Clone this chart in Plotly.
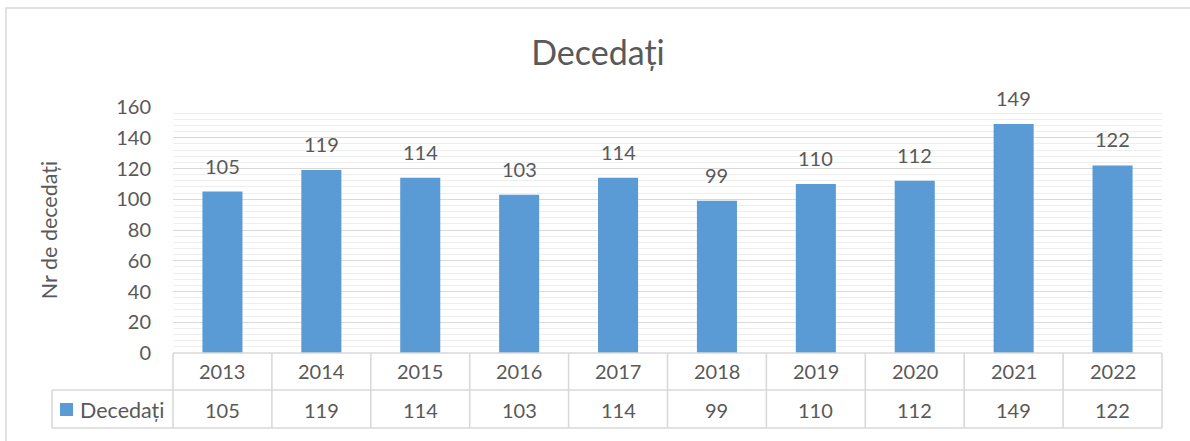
import plotly.graph_objects as go

years = ["2013", "2014", "2015", "2016", "2017", "2018", "2019", "2020", "2021", "2022"]
deaths = [105, 119, 114, 103, 114, 99, 110, 112, 149, 122]
series_name = "Decedați"
title_text = "Decedați"
y_title = "Nr de decedați"

W, H = 1190, 441
L, R, T, B = 173, 28, 107, 88
PW = W - L - R
PH = H - T - B

def px_x(px):
    return (px - L) / PW

def px_y(py):
    return (H - B - py) / PH

FONT = "Lato, 'Open Sans', sans-serif"
TXT = "#595959"
BAR = "#5B9BD5"
LINE = "#D9D9D9"

fig = go.Figure()
fig.add_trace(go.Bar(
    x=years, y=deaths, name=series_name,
    marker=dict(color=BAR, line=dict(width=0)),
    width=0.405, showlegend=False, hoverinfo="x+y",
))

annotations = []
# data labels above bars
for i, v in enumerate(deaths):
    annotations.append(dict(
        x=i, y=v, xref="x", yref="y", text=str(v), showarrow=False,
        yanchor="bottom", yshift=12, font=dict(family=FONT, size=20, color=TXT),
    ))
# data table: years row and values row
row1_y = px_y(371)
row2_y = px_y(410)
for i, (yr, v) in enumerate(zip(years, deaths)):
    annotations.append(dict(
        x=i, y=row1_y, xref="x", yref="paper", text=yr, showarrow=False,
        yanchor="middle", font=dict(family=FONT, size=20, color=TXT),
    ))
    annotations.append(dict(
        x=i, y=row2_y, xref="x", yref="paper", text=str(v), showarrow=False,
        yanchor="middle", font=dict(family=FONT, size=20, color=TXT),
    ))
# legend cell text
annotations.append(dict(
    x=px_x(78), y=row2_y, xref="paper", yref="paper", text=series_name,
    showarrow=False, xanchor="left", yanchor="middle",
    font=dict(family=FONT, size=21.5, color=TXT),
))

shapes = []
lw = 1.6
# outer chart border
shapes.append(dict(type="rect", xref="paper", yref="paper",
                   x0=px_x(6), x1=px_x(1260), y0=px_y(470), y1=px_y(8),
                   line=dict(color=LINE, width=1.5), fillcolor="rgba(0,0,0,0)", layer="below"))
# table horizontal lines
x_left_tbl = px_x(52)
for py, x0 in [(353, 0), (390, x_left_tbl), (428, x_left_tbl)]:
    shapes.append(dict(type="line", xref="paper", yref="paper",
                       x0=x0, x1=1, y0=px_y(py), y1=px_y(py),
                       line=dict(color=LINE, width=lw)))
# table vertical lines at category boundaries
n = len(years)
for i in range(n + 1):
    xp = i / n
    shapes.append(dict(type="line", xref="paper", yref="paper",
                       x0=xp, x1=xp, y0=px_y(353), y1=px_y(428),
                       line=dict(color=LINE, width=lw)))
shapes.append(dict(type="line", xref="paper", yref="paper",
                   x0=x_left_tbl, x1=x_left_tbl, y0=px_y(390), y1=px_y(428),
                   line=dict(color=LINE, width=lw)))
# legend key square
shapes.append(dict(type="rect", xref="paper", yref="paper",
                   x0=px_x(60), x1=px_x(73), y0=px_y(416), y1=px_y(403),
                   line=dict(width=0), fillcolor=BAR))

fig.update_layout(
    width=W, height=H,
    margin=dict(l=L, r=R, t=T, b=B, autoexpand=False),
    paper_bgcolor="white", plot_bgcolor="white",
    font=dict(family=FONT, color=TXT),
    title=dict(text=title_text, x=598 / W, xref="container", xanchor="center",
               y=1 - 53 / H, yref="container", yanchor="middle",
               font=dict(family=FONT, size=34, color=TXT)),
    bargap=0.6,
    xaxis=dict(
        type="category", range=[-0.5, n - 0.5],
        showticklabels=False, showgrid=False, zeroline=False, showline=False,
        fixedrange=True,
    ),
    yaxis=dict(
        range=[0, 160], dtick=20, tick0=0,
        showgrid=True, gridcolor=LINE, gridwidth=1.3,
        zeroline=False, showline=False, ticks="",
        tickfont=dict(family=FONT, size=20, color=TXT),
        ticklabelstandoff=21,
        minor=dict(dtick=4, tick0=0, showgrid=True, gridcolor="#EEEEEE", gridwidth=1.2),
        title=dict(text=y_title, font=dict(family=FONT, size=21.5, color=TXT), standoff=52),
    ),
    annotations=annotations,
    shapes=shapes,
)

fig.write_html(
    "out.html",
    config={"displayModeBar": False},
    post_script="document.body.style.margin='0';document.body.style.overflow='hidden';",
)
